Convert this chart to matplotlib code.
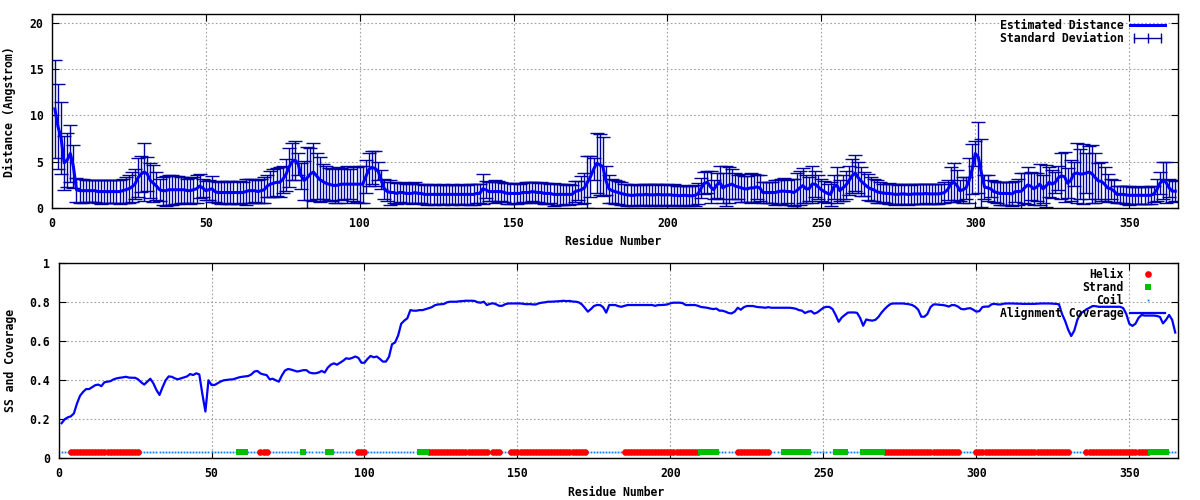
import numpy as np
import matplotlib
matplotlib.use("Agg")
import matplotlib.pyplot as plt
from matplotlib.lines import Line2D
from matplotlib.legend_handler import HandlerLine2D

# estimated distance per residue (1..365)
dist = [
    10.7, 8.8, 7.6, 4.9, 5.2, 5.9, 4.5, 2.0, 1.9, 1.9,
    1.9, 1.9, 1.9, 1.9, 1.8, 1.8, 1.8, 1.8, 1.8, 1.8,
    1.8, 1.8, 1.9, 2.0, 2.1, 2.3, 2.6, 3.3, 3.7, 3.9,
    3.7, 3.0, 2.7, 2.4, 2.0, 1.9, 1.9, 2.0, 2.0, 2.0,
    2.0, 2.0, 2.0, 1.9, 1.9, 2.0, 2.1, 2.4, 2.2, 1.9,
    2.0, 2.1, 1.8, 1.7, 1.7, 1.7, 1.7, 1.7, 1.7, 1.7,
    1.7, 1.7, 1.8, 1.9, 1.9, 1.9, 1.8, 1.9, 2.0, 2.4,
    2.6, 2.7, 2.8, 2.8, 3.1, 3.6, 4.4, 5.0, 5.2, 4.8,
    3.5, 3.0, 3.3, 3.7, 3.9, 3.5, 3.1, 2.9, 2.7, 2.6,
    2.5, 2.45, 2.5, 2.6, 2.6, 2.6, 2.6, 2.6, 2.6, 2.6,
    2.6, 3.4, 4.2, 4.4, 4.3, 4.0, 3.1, 2.1, 1.8, 1.7,
    1.7, 1.6, 1.7, 1.7, 1.6, 1.6, 1.6, 1.7, 1.6, 1.6,
    1.5, 1.5, 1.5, 1.5, 1.5, 1.5, 1.5, 1.5, 1.5, 1.5,
    1.5, 1.5, 1.5, 1.5, 1.5, 1.5, 1.5, 1.6, 1.6, 2.1,
    2.0, 1.8, 1.8, 1.8, 1.8, 1.8, 1.7, 1.6, 1.6, 1.6,
    1.6, 1.6, 1.7, 1.7, 1.7, 1.8, 1.75, 1.7, 1.7, 1.6,
    1.6, 1.6, 1.5, 1.5, 1.5, 1.5, 1.5, 1.5, 1.5, 1.8,
    1.9, 2.0, 2.2, 2.8, 3.4, 4.2, 4.85, 4.7, 4.5, 3.0,
    2.1, 1.9, 1.8, 1.7, 1.6, 1.5, 1.45, 1.4, 1.4, 1.45,
    1.45, 1.45, 1.5, 1.45, 1.45, 1.45, 1.5, 1.45, 1.45, 1.45,
    1.45, 1.4, 1.4, 1.35, 1.4, 1.4, 1.35, 1.35, 1.4, 1.6,
    2.2, 2.7, 2.8, 2.3, 2.0, 2.5, 2.8, 2.2, 2.4, 2.5,
    2.6, 2.4, 2.3, 2.2, 2.1, 2.1, 2.2, 2.2, 2.3, 2.2,
    1.7, 1.7, 1.7, 1.7, 1.7, 1.8, 1.85, 1.85, 1.8, 1.8,
    1.7, 1.9, 2.2, 2.45, 2.1, 2.1, 2.6, 2.6, 2.3, 2.0,
    1.8, 1.6, 1.5, 2.3, 2.5, 1.9, 2.2, 2.5, 3.0, 3.5,
    3.8, 3.3, 2.9, 2.6, 2.3, 2.1, 2.0, 1.8, 1.7, 1.65,
    1.6, 1.6, 1.55, 1.5, 1.5, 1.55, 1.55, 1.5, 1.5, 1.55,
    1.55, 1.55, 1.55, 1.6, 1.55, 1.55, 1.55, 1.55, 1.6, 1.7,
    2.0, 2.6, 2.8, 2.5, 1.9, 2.0, 2.2, 3.0, 4.2, 5.9,
    5.5, 3.8, 2.3, 2.2, 2.1, 1.8, 1.7, 1.6, 1.6, 1.6,
    1.6, 1.55, 1.8, 1.8, 1.85, 2.2, 2.5, 2.4, 2.1, 2.3,
    2.6, 2.1, 2.4, 2.8, 2.6, 2.8, 3.3, 3.5, 3.4, 2.7,
    3.0, 3.7, 3.8, 3.7, 3.7, 3.8, 3.9, 3.7, 3.3, 2.95,
    2.9, 2.6, 2.2, 2.1, 1.9, 1.5, 1.5, 1.5, 1.45, 1.4,
    1.4, 1.4, 1.4, 1.4, 1.4, 1.4, 1.4, 1.55, 2.0, 2.7,
    3.0, 2.8, 2.2, 1.85, 1.85,
]

# standard deviation per residue
std = [
    5.3, 4.6, 3.9, 2.9, 2.9, 3.1, 2.3, 1.3, 1.3, 1.3,
    1.2, 1.2, 1.2, 1.2, 1.2, 1.3, 1.2, 1.2, 1.2, 1.2,
    1.2, 1.3, 1.3, 1.4, 1.5, 1.6, 1.6, 2.1, 1.9, 3.1,
    1.8, 1.9, 2.0, 1.5, 1.2, 1.5, 1.6, 1.6, 1.6, 1.5,
    1.5, 1.4, 1.4, 1.3, 1.4, 1.4, 1.5, 1.3, 1.0, 1.0,
    1.1, 1.4, 1.1, 1.1, 1.2, 1.1, 1.2, 1.2, 1.1, 1.2,
    1.2, 1.1, 1.4, 1.3, 1.3, 1.2, 1.2, 1.3, 1.4, 1.2,
    1.4, 1.5, 1.5, 1.6, 1.5, 1.7, 2.1, 2.0, 2.1, 1.2,
    1.4, 2.1, 3.3, 2.8, 3.1, 2.5, 2.4, 1.9, 1.9, 1.7,
    1.7, 1.9, 1.9, 1.7, 1.6, 2.0, 1.6, 1.8, 1.9, 2.0,
    2.0, 1.8, 1.8, 1.75, 1.9, 1.0, 1.0, 1.1, 1.0, 1.3,
    1.1, 1.1, 1.0, 1.1, 1.0, 1.0, 1.1, 1.1, 1.0, 1.0,
    1.0, 1.1, 1.0, 1.1, 1.0, 1.0, 1.1, 1.0, 1.0, 1.1,
    1.0, 1.0, 1.1, 1.0, 1.0, 1.1, 1.1, 1.0, 1.0, 1.6,
    0.9, 1.0, 1.0, 1.2, 1.1, 1.0, 1.0, 1.1, 1.1, 1.0,
    1.1, 1.0, 1.0, 1.1, 1.1, 1.0, 1.1, 1.0, 1.1, 1.1,
    1.1, 1.0, 1.2, 1.1, 1.1, 1.1, 1.0, 1.1, 1.0, 1.1,
    1.0, 1.5, 1.6, 2.8, 2.2, 1.2, 3.25, 3.3, 3.2, 1.6,
    1.5, 1.3, 1.3, 1.2, 1.2, 1.1, 1.15, 1.1, 1.2, 1.05,
    1.1, 1.2, 1.1, 1.15, 1.1, 1.2, 1.1, 1.15, 1.1, 1.2,
    1.1, 1.2, 1.0, 1.1, 1.1, 1.0, 1.1, 1.0, 1.1, 1.1,
    1.1, 1.2, 1.2, 1.7, 1.0, 1.35, 1.8, 1.6, 2.2, 1.95,
    1.6, 1.45, 1.3, 1.5, 1.4, 1.4, 1.6, 1.5, 1.3, 1.4,
    1.1, 1.1, 1.1, 1.1, 1.3, 1.3, 1.35, 1.45, 1.2, 1.4,
    1.5, 1.9, 1.8, 1.85, 1.5, 1.3, 2.0, 1.4, 1.3, 1.2,
    1.1, 1.0, 1.3, 1.3, 1.9, 1.1, 1.4, 1.5, 1.6, 1.8,
    1.9, 1.7, 1.6, 1.3, 1.4, 1.3, 1.2, 1.2, 1.1, 1.0,
    1.05, 1.1, 1.05, 1.1, 1.05, 1.1, 1.05, 1.1, 1.05, 1.1,
    1.05, 1.1, 1.05, 1.0, 1.05, 1.1, 1.05, 1.1, 1.05, 1.1,
    1.1, 1.9, 2.1, 1.6, 1.1, 1.4, 1.2, 2.4, 2.7, 1.3,
    3.8, 3.7, 1.3, 1.4, 0.9, 1.1, 1.1, 1.2, 1.2, 1.2,
    1.2, 1.3, 1.1, 1.4, 1.9, 1.6, 2.0, 1.5, 1.75, 1.5,
    2.2, 1.5, 2.25, 1.6, 1.5, 1.1, 1.3, 2.5, 2.7, 1.6,
    2.2, 1.3, 3.25, 2.7, 3.2, 2.2, 2.85, 3.1, 2.7, 1.9,
    2.1, 1.8, 1.5, 1.1, 1.2, 0.95, 0.95, 0.95, 0.95, 1.0,
    0.9, 0.9, 0.9, 0.95, 0.9, 0.9, 0.95, 0.9, 1.2, 1.2,
    2.0, 2.2, 1.0, 1.2, 1.1,
]

# alignment coverage per residue
coverage = [
    0.18, 0.20, 0.21, 0.215, 0.23, 0.28, 0.32, 0.34, 0.355, 0.355,
    0.365, 0.375, 0.378, 0.37, 0.39, 0.393, 0.396, 0.405, 0.41, 0.413,
    0.415, 0.418, 0.414, 0.413, 0.413, 0.405, 0.39, 0.378, 0.393, 0.408,
    0.384, 0.35, 0.325, 0.365, 0.40, 0.42, 0.418, 0.41, 0.405, 0.41,
    0.415, 0.42, 0.432, 0.427, 0.436, 0.43, 0.33, 0.24, 0.40, 0.376,
    0.376, 0.385, 0.394, 0.40, 0.402, 0.404, 0.405, 0.41, 0.415, 0.418,
    0.42, 0.422, 0.43, 0.445, 0.448, 0.435, 0.43, 0.427, 0.405, 0.408,
    0.40, 0.393, 0.425, 0.45, 0.458, 0.455, 0.45, 0.445, 0.448, 0.452,
    0.452, 0.44, 0.436, 0.436, 0.44, 0.448, 0.44, 0.465, 0.48, 0.487,
    0.48, 0.49, 0.50, 0.513, 0.51, 0.515, 0.522, 0.515, 0.49, 0.49,
    0.51, 0.525, 0.518, 0.522, 0.51, 0.496, 0.496, 0.52, 0.585, 0.594,
    0.63, 0.69, 0.706, 0.718, 0.76, 0.757, 0.757, 0.76, 0.76, 0.765,
    0.77, 0.775, 0.785, 0.789, 0.79, 0.792, 0.80, 0.803, 0.803, 0.803,
    0.805, 0.806, 0.808, 0.808, 0.808, 0.807, 0.80, 0.798, 0.803, 0.786,
    0.792, 0.795, 0.79, 0.782, 0.782, 0.79, 0.794, 0.794, 0.794, 0.794,
    0.794, 0.792, 0.79, 0.791, 0.789, 0.789, 0.795, 0.798, 0.80, 0.803,
    0.803, 0.804, 0.805, 0.806, 0.808, 0.806, 0.807, 0.804, 0.803, 0.80,
    0.79, 0.772, 0.752, 0.765, 0.781, 0.786, 0.786, 0.775, 0.747, 0.786,
    0.786, 0.786, 0.78, 0.777, 0.782, 0.786, 0.786, 0.786, 0.786, 0.786,
    0.786, 0.786, 0.786, 0.786, 0.782, 0.786, 0.786, 0.787, 0.789, 0.795,
    0.798, 0.798, 0.798, 0.796, 0.786, 0.786, 0.786, 0.786, 0.782, 0.776,
    0.774, 0.772, 0.768, 0.765, 0.768, 0.757, 0.757, 0.752, 0.745, 0.743,
    0.752, 0.772, 0.762, 0.775, 0.781, 0.781, 0.781, 0.777, 0.775, 0.774,
    0.772, 0.775, 0.772, 0.772, 0.772, 0.772, 0.772, 0.772, 0.772, 0.77,
    0.767, 0.76, 0.757, 0.745, 0.752, 0.755, 0.742, 0.748, 0.76, 0.772,
    0.777, 0.776, 0.765, 0.735, 0.70, 0.722, 0.735, 0.747, 0.748, 0.748,
    0.746, 0.72, 0.68, 0.712, 0.708, 0.706, 0.71, 0.725, 0.747, 0.765,
    0.78, 0.792, 0.794, 0.794, 0.794, 0.794, 0.792, 0.79, 0.786, 0.777,
    0.762, 0.726, 0.726, 0.74, 0.775, 0.789, 0.789, 0.787, 0.786, 0.783,
    0.778, 0.786, 0.785, 0.778, 0.766, 0.764, 0.768, 0.77, 0.762, 0.752,
    0.755, 0.776, 0.778, 0.778, 0.79, 0.792, 0.789, 0.789, 0.793, 0.794,
    0.794, 0.794, 0.793, 0.793, 0.792, 0.792, 0.792, 0.792, 0.792, 0.793,
    0.794, 0.794, 0.794, 0.794, 0.793, 0.792, 0.79, 0.74, 0.705, 0.66,
    0.627, 0.655, 0.71, 0.742, 0.752, 0.764, 0.772, 0.781, 0.78, 0.777,
    0.777, 0.777, 0.777, 0.777, 0.777, 0.777, 0.777, 0.77, 0.74, 0.69,
    0.679, 0.69, 0.72, 0.735, 0.732, 0.732, 0.732, 0.732, 0.73, 0.725,
    0.692, 0.71, 0.735, 0.71, 0.645,
]

# secondary structure segments (first, last residue)
helix_segments = [(4, 26), (66, 68), (98, 100), (121, 140), (142, 144),
                  (148, 172), (185, 209), (222, 232), (270, 294),
                  (300, 330), (336, 356)]
strand_segments = [(59, 61), (80, 80), (88, 89), (118, 120), (210, 215),
                   (237, 245), (254, 257), (263, 269), (357, 362)]
ss_level = 0.03

x_ticks = [0, 50, 100, 150, 200, 250, 300, 350]
dist_ticks = [0, 5, 10, 15, 20]
cov_ticks = [0, 0.2, 0.4, 0.6, 0.8, 1.0]
cov_tick_labels = ['0', '0.2', '0.4', '0.6', '0.8', '1']

residues = np.arange(1, len(dist) + 1)
cov_res = np.arange(1, len(coverage) + 1)

helix_res = np.concatenate([np.arange(a, b + 1) for a, b in helix_segments])
strand_res = np.concatenate([np.arange(a, b + 1) for a, b in strand_segments])
coil_res = np.setdiff1d(cov_res, np.concatenate([helix_res, strand_res]))

plt.rcParams['font.family'] = ['DejaVu Sans Mono']
plt.rcParams['font.weight'] = 'bold'
plt.rcParams['font.size'] = 8.3

fig = plt.figure(figsize=(12, 5), dpi=100)
ax1 = fig.add_axes([0.0432, 0.5834, 0.9388, 0.388])
ax2 = fig.add_axes([0.0488, 0.0834, 0.9331, 0.39])

grid_kw = dict(color='#a0a0a0', linestyle=(0, (1.5, 2.0)), linewidth=0.8)

def style_axes(ax):
    ax.set_axisbelow(True)
    ax.grid(True, **grid_kw)
    ax.tick_params(direction='in', length=5, width=0.8, top=True, right=True,
                   pad=6, colors='black')
    for sp in ax.spines.values():
        sp.set_linewidth(1.0)

# top panel
err_color = '#0000a0'
line_color = '#0000ff'
ax1.errorbar(residues, dist, yerr=std, fmt='none', ecolor=err_color,
             elinewidth=1.0, capsize=5, capthick=1.0, zorder=2)
dist_line, = ax1.plot(residues, dist, color=line_color, lw=2.2, zorder=3)
ax1.set_xlim(0, 366)
ax1.set_ylim(0, 20.9)
ax1.set_xticks(x_ticks)
ax1.set_yticks(dist_ticks)
style_axes(ax1)
ax1.set_xlabel('Residue Number', fontweight='bold')
ax1.set_ylabel('Distance (Angstrom)', fontweight='bold')
ax1.xaxis.set_label_coords(0.498, -0.14)
ax1.yaxis.set_label_coords(-0.0315, 0.5)

sd_proxy = Line2D([], [], color=err_color, lw=1.0, marker='|',
                  markersize=7, markeredgewidth=1.0)
ax1.legend([dist_line, sd_proxy], ['Estimated Distance', 'Standard Deviation'],
           loc='upper right', bbox_to_anchor=(0.988, 0.975), frameon=False,
           markerfirst=False, handlelength=3.0, handletextpad=0.6,
           borderpad=0, borderaxespad=0, labelspacing=0.0,
           handler_map={sd_proxy: HandlerLine2D(numpoints=3)})

# bottom panel
helix_color = '#ff0000'
strand_color = '#00c000'
coil_color = '#0080ff'
cov_line, = ax2.plot(cov_res, coverage, color=line_color, lw=1.6, zorder=3)
ax2.plot(coil_res, np.full(len(coil_res), ss_level), ls='none', marker='s',
         ms=1.3, mew=0, color=coil_color, zorder=2)
ax2.plot(helix_res, np.full(len(helix_res), ss_level), ls='none', marker='o',
         ms=4.8, mew=0, color=helix_color, zorder=2)
ax2.plot(strand_res, np.full(len(strand_res), ss_level), ls='none', marker='s',
         ms=4.8, mew=0, color=strand_color, zorder=2)
ax2.set_xlim(0, 366)
ax2.set_ylim(0, 1)
ax2.set_xticks(x_ticks)
ax2.set_yticks(cov_ticks)
ax2.set_yticklabels(cov_tick_labels)
style_axes(ax2)
ax2.set_xlabel('Residue Number', fontweight='bold')
ax2.set_ylabel('SS and Coverage', fontweight='bold')
ax2.xaxis.set_label_coords(0.498, -0.14)
ax2.yaxis.set_label_coords(-0.0375, 0.5)

h_proxy = Line2D([], [], ls='none', marker='o', ms=4.8, mew=0, color=helix_color)
e_proxy = Line2D([], [], ls='none', marker='s', ms=4.8, mew=0, color=strand_color)
c_proxy = Line2D([], [], ls='none', marker='s', ms=1.3, mew=0, color=coil_color)
ax2.legend([h_proxy, e_proxy, c_proxy, cov_line],
           ['Helix', 'Strand', 'Coil', 'Alignment Coverage'],
           loc='upper right', bbox_to_anchor=(0.988, 0.977), frameon=False,
           markerfirst=False, handlelength=3.0, handletextpad=0.6,
           borderpad=0, borderaxespad=0, labelspacing=0.0)

fig.savefig('out.png', dpi=100)
